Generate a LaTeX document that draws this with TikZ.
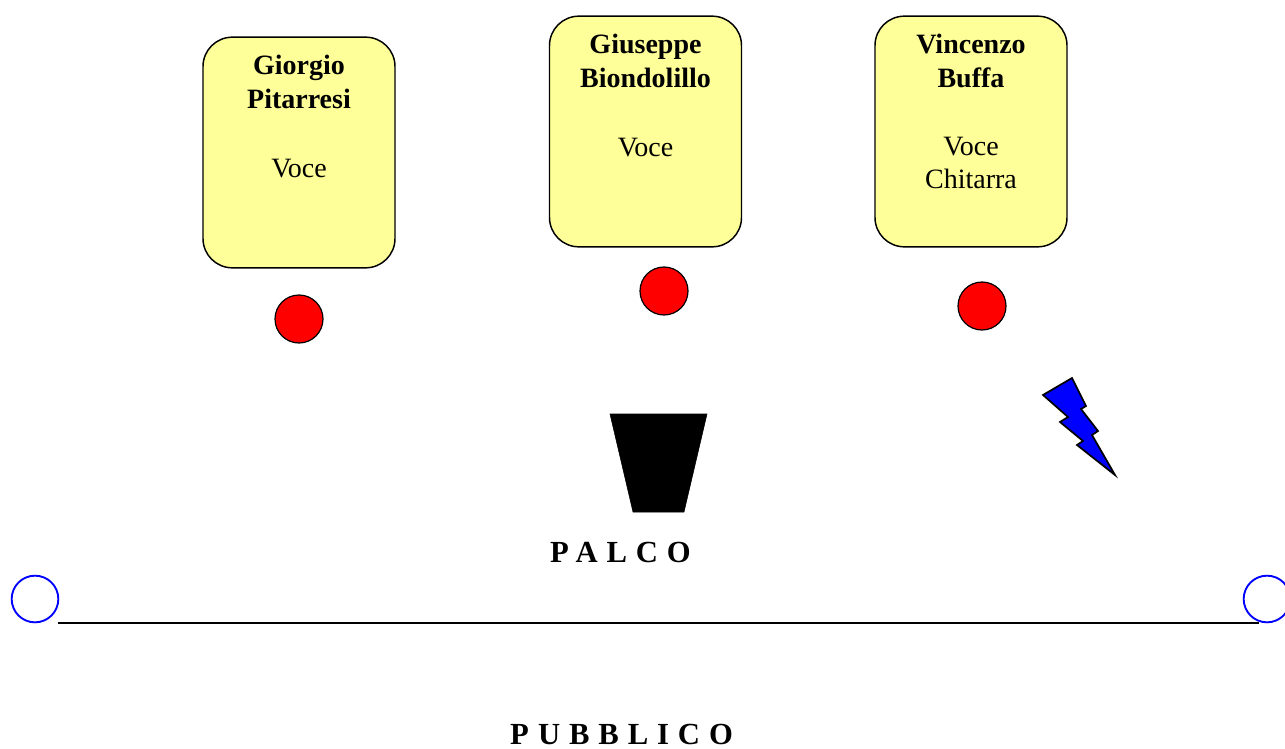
\documentclass[tikz,border=0pt]{standalone}
\usepackage{fontspec}
\setmainfont{Liberation Serif}
\usepackage{tikz}
\usetikzlibrary{positioning}

\definecolor{boxyellow}{RGB}{255,255,153}

\tikzset{
	musicbox/.style={draw=black, line width=1.1pt, fill=boxyellow, rounded corners=22pt,
		minimum width=144pt, minimum height=173pt, inner sep=0pt},
	nametext/.style={align=center, inner sep=0pt, font=\fontsize{21}{25}\selectfont},
	micdot/.style={circle, draw=black, line width=0.9pt, fill=red, minimum size=36pt, inner sep=0pt},
	speaker/.style={circle, draw=blue, line width=1.4pt, minimum size=35pt, inner sep=0pt},
	stagetext/.style={inner sep=0pt, anchor=base, font=\fontsize{23}{26}\selectfont\bfseries\addfontfeature{LetterSpace=29}}
}

\begin{document}
\begin{tikzpicture}[x=0.75pt, y=-0.75pt]
		% Frame of the page
		\useasboundingbox (0,0) rectangle (1285,749);

		% Musicians
		\node[musicbox] (giorgio) at (299,152.5) {};
		\node[musicbox] (giuseppe) at (645.5,131.5) {};
		\node[musicbox] (vincenzo) at (971,131.5) {};
		\node[nametext, anchor=north, below=14pt of giorgio.north] (giorgiotext) {\textbf{Giorgio}\\\textbf{Pitarresi}\\[27pt]Voce};
		\node[nametext, anchor=north, below=14pt of giuseppe.north] (giuseppetext) {\textbf{Giuseppe}\\\textbf{Biondolillo}\\[27pt]Voce};
		\node[nametext, anchor=north, below=14pt of vincenzo.north] (vincenzotext) {\textbf{Vincenzo}\\\textbf{Buffa}\\[26pt]Voce\\Chitarra};

		% Microphones
		\node[micdot] (micgiorgio) at (299,319) {};
		\node[micdot] (micgiuseppe) at (664,291) {};
		\node[micdot] (micvincenzo) at (982,306) {};

		% Monitor and jack
		\filldraw[black] (610,414) -- (707,414) -- (684,512) -- (633,512) -- cycle;
		\filldraw[fill=blue, draw=black, line width=1.3pt, line join=miter]
			(1043,395) -- (1072,378) -- (1086,406) -- (1081,409) -- (1098,431) -- (1092,435)
			-- (1115,475) -- (1077,445) -- (1083,441) -- (1060,422) -- (1068,417) -- cycle;

		% Stage edge
		\node[speaker] (speakerleft) at (35,599) {};
		\node[speaker] (speakerright) at (1267,599) {};
		\coordinate (stageleft) at (58,623);
		\coordinate (stageright) at (1259,623);
		\draw[line width=1.5pt] (stageleft) -- (stageright);

		% Text
		\node[stagetext] (palco) at (620.5,562) {PALCO};
		\node[stagetext] (pubblico) at (621.5,744) {P\kern0.3em UBBLICO};
	\end{tikzpicture}
\end{document}
